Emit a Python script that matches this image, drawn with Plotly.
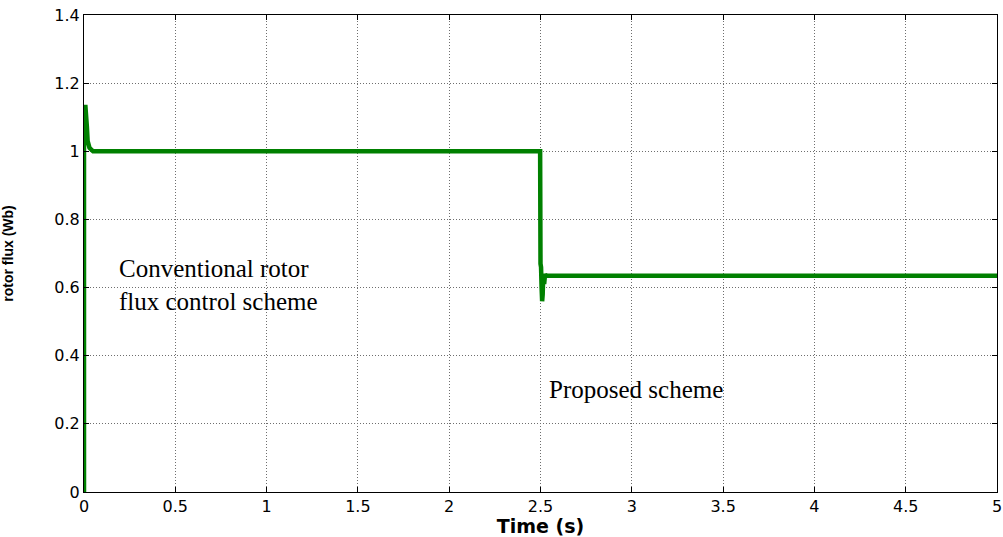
import plotly.graph_objects as go

# Time (s) and rotor flux (Wb)
time_s = [0.0, 0.0, 0.004, 0.008, 0.010, 0.012, 0.016, 0.020, 0.025, 0.030, 0.040, 0.050,
          2.495, 2.498, 2.500, 2.503, 2.506, 2.509, 2.512, 2.515, 2.520, 2.525, 2.530, 2.540, 5.0]
rotor_flux = [0.0, 1.13, 1.13, 1.13, 1.12, 1.08, 1.07, 1.03, 1.02, 1.01, 1.005, 1.0,
              1.0, 1.0, 0.67, 0.66, 0.60, 0.56, 0.58, 0.64, 0.61, 0.64, 0.635, 0.635, 0.635]

x_ticks = [0, 0.5, 1, 1.5, 2, 2.5, 3, 3.5, 4, 4.5, 5]
x_ticklabels = ["0", "0.5", "1", "1.5", "2", "2.5", "3", "3.5", "4", "4.5", "5"]
y_ticks = [0, 0.2, 0.4, 0.6, 0.8, 1.0, 1.2, 1.4]
y_ticklabels = ["0", "0.2", "0.4", "0.6", "0.8", "1", "1.2", "1.4"]

notes = [
    {"text": "Conventional rotor<br>flux control scheme", "x": 0.18, "y": 0.607},
    {"text": "Proposed scheme", "x": 2.535, "y": 0.30},
]

fig = go.Figure()
fig.add_trace(go.Scatter(x=time_s, y=rotor_flux, mode="lines",
                         line=dict(color="rgb(0,128,0)", width=4.5),
                         showlegend=False, hoverinfo="skip", cliponaxis=False))

for n in notes:
    fig.add_annotation(x=n["x"], y=n["y"], text=n["text"], showarrow=False,
                       xanchor="left", yanchor="middle", align="left",
                       font=dict(family="Liberation Serif", size=25, color="black"))

axis_common = dict(showline=True, linecolor="black", linewidth=1, mirror="ticks",
                   ticks="inside", ticklen=5, tickcolor="black",
                   showgrid=True, gridcolor="rgb(110,110,110)", gridwidth=1, griddash="1px,2px",
                   zeroline=False, automargin=False, ticklabeloverflow="allow",
                   tickfont=dict(family="DejaVu Sans", size=16, color="black"))

fig.update_xaxes(range=[0, 5], tickvals=x_ticks, ticktext=x_ticklabels,
                 title=dict(text="<b>Time (s)</b>", standoff=0,
                            font=dict(family="DejaVu Sans", size=19, color="black")),
                 **axis_common)
fig.update_yaxes(range=[0, 1.4], tickvals=y_ticks, ticktext=y_ticklabels,
                 title=dict(text="<b>rotor flux (Wb)</b>", standoff=38,
                            font=dict(family="Liberation Sans", size=14, color="black")),
                 **axis_common)

fig.update_layout(width=1003, height=537, paper_bgcolor="white", plot_bgcolor="white",
                  margin=dict(l=84, r=6, t=15, b=45))

# remove the page's default body margin so the figure fills the window exactly
fig.write_html("out.html", config={"displayModeBar": False},
               post_script="document.body.style.margin='0';"
                           "document.documentElement.style.overflow='hidden';")
